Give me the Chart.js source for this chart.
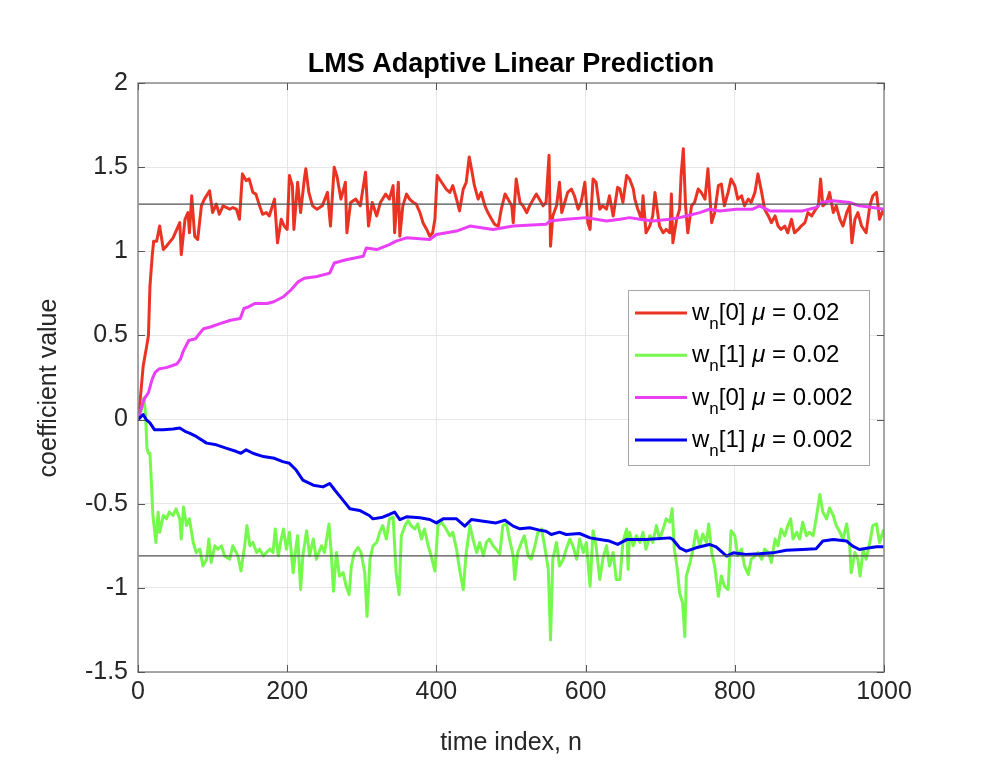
<!DOCTYPE html>
<html>
<head>
<meta charset="utf-8">
<title>LMS Adaptive Linear Prediction</title>
<script src="https://cdn.jsdelivr.net/npm/chart.js@4.4.1/dist/chart.umd.min.js"></script>
<style>
  html, body { margin: 0; padding: 0; background: #fff; }
  canvas { display: block; }
</style>
</head>
<body>
<canvas id="lms" width="1000" height="778"></canvas>
<script>
// w_n[0], mu = 0.02
const nRedFast = [0,3,7,11,14,16,19,21,25,29,
  34,38,47,56,58,63,67,69,72,76,
  80,85,89,96,100,105,109,114,123,127,
  132,136,140,145,149,154,158,163,167,172,
  176,183,187,192,196,200,203,207,209,214,
  218,223,225,229,234,240,247,254,258,263,
  267,272,278,280,285,292,298,305,309,314,
  320,325,332,337,342,344,349,351,355,360,
  364,369,373,378,382,387,391,395,398,401,
  407,413,418,422,427,431,436,440,444,447,
  451,456,460,465,469,474,478,483,487,492,
  496,501,503,507,512,516,521,525,530,534,
  538,543,547,551,553,556,561,565,568,572,
  576,581,585,590,594,599,603,606,610,614,
  619,623,628,632,637,643,646,650,655,659,
  664,666,670,675,677,681,686,690,693,699,
  704,708,713,715,717,722,726,728,731,734,
  737,742,746,751,755,760,764,769,773,778,
  782,786,791,795,800,804,809,813,818,822,
  827,831,836,840,845,849,854,858,862,867,
  871,876,880,885,889,894,898,903,907,912,
  915,918,923,927,932,936,941,945,950,954,
  957,961,965,970,976,981,985,990,994,999,
  1000];
const wRedFast = [0,0.12,0.32,0.42,0.5,0.79,0.97,1.06,1.06,1.15,
  1.01,1.03,1.08,1.17,0.98,1.19,1.23,1.11,1.33,1.09,
  1.07,1.27,1.31,1.36,1.23,1.28,1.22,1.27,1.25,1.26,
  1.25,1.19,1.46,1.42,1.43,1.35,1.34,1.27,1.22,1.23,
  1.21,1.31,1.05,1.19,1.15,1.13,1.45,1.39,1.13,1.41,
  1.23,1.43,1.49,1.35,1.27,1.25,1.27,1.35,1.15,1.50,
  1.44,1.31,1.41,1.11,1.29,1.31,1.27,1.47,1.15,1.29,
  1.21,1.29,1.34,1.31,1.39,1.11,1.41,1.09,1.27,1.34,
  1.31,1.29,1.28,1.23,1.17,1.13,1.09,1.11,1.19,1.45,
  1.41,1.37,1.35,1.39,1.31,1.24,1.37,1.41,1.56,1.49,
  1.39,1.31,1.35,1.27,1.23,1.19,1.16,1.15,1.25,1.34,
  1.31,1.27,1.17,1.43,1.29,1.27,1.23,1.27,1.31,1.34,
  1.31,1.27,1.29,1.57,1.03,1.21,1.27,1.41,1.23,1.29,
  1.35,1.37,1.33,1.25,1.29,1.41,1.17,1.13,1.43,1.41,
  1.25,1.27,1.25,1.33,1.21,1.38,1.37,1.29,1.45,1.43,
  1.37,1.31,1.25,1.19,1.33,1.11,1.15,1.21,1.35,1.15,
  1.11,1.13,1.11,1.34,1.05,1.19,1.25,1.45,1.61,1.27,
  1.11,1.27,1.29,1.37,1.35,1.31,1.49,1.17,1.23,1.39,
  1.40,1.27,1.35,1.43,1.39,1.31,1.33,1.27,1.31,1.29,
  1.35,1.46,1.35,1.25,1.21,1.17,1.21,1.15,1.13,1.15,
  1.11,1.19,1.11,1.13,1.15,1.17,1.23,1.21,1.24,1.27,
  1.43,1.27,1.29,1.35,1.23,1.27,1.19,1.15,1.23,1.27,
  1.05,1.19,1.23,1.15,1.11,1.27,1.33,1.35,1.19,1.25,
  1.22];

// w_n[1], mu = 0.02
const nGreenFast = [0,4,8,10,12,14,16,18,20,24,
  27,29,34,38,42,47,51,56,58,61,
  65,69,74,78,83,87,92,95,98,103,
  107,112,116,123,127,134,138,143,146,150,
  154,159,163,168,172,177,181,184,188,192,
  195,199,203,208,212,214,218,221,226,230,
  235,239,246,250,256,259,262,266,270,275,
  279,283,286,290,295,299,304,307,311,315,
  320,324,328,333,337,342,346,350,353,358,
  362,366,371,375,380,384,389,393,398,402,
  407,413,418,422,427,431,436,440,445,449,
  454,458,463,467,471,476,480,485,489,494,
  498,503,505,509,514,518,523,527,532,536,
  541,545,550,553,556,561,565,570,574,579,
  583,588,592,597,601,606,610,614,619,623,
  628,632,637,641,646,650,655,657,659,664,
  668,673,677,681,686,690,695,699,704,708,
  713,716,719,723,726,730,733,735,740,744,
  748,753,757,762,765,769,773,778,782,786,
  791,795,800,804,809,813,818,822,827,831,
  836,840,845,849,854,858,862,867,871,875,
  878,883,887,891,896,900,905,909,914,918,
  923,927,932,936,941,945,950,954,956,961,
  965,968,972,976,981,985,990,994,999,1000];
const wGreenFast = [0,0.05,0.13,0.04,-0.17,-0.2,-0.2,-0.38,-0.57,-0.73,
  -0.55,-0.67,-0.57,-0.59,-0.55,-0.57,-0.53,-0.59,-0.71,-0.52,
  -0.63,-0.59,-0.73,-0.79,-0.77,-0.87,-0.83,-0.71,-0.85,-0.75,
  -0.77,-0.75,-0.81,-0.83,-0.75,-0.81,-0.90,-0.75,-0.63,-0.75,
  -0.73,-0.79,-0.77,-0.81,-0.79,-0.77,-0.79,-0.65,-0.81,-0.71,
  -0.65,-0.77,-0.67,-0.91,-0.75,-0.69,-1.01,-0.81,-0.66,-0.81,
  -0.71,-0.83,-0.75,-0.79,-0.62,-0.79,-1.02,-0.79,-0.93,-0.91,
  -0.99,-1.04,-0.87,-0.79,-0.76,-0.79,-0.91,-1.17,-0.83,-0.75,
  -0.73,-0.67,-0.63,-0.71,-0.59,-0.58,-0.91,-1.04,-0.69,-0.63,
  -0.60,-0.63,-0.65,-0.62,-0.71,-0.65,-0.75,-0.81,-0.90,-0.63,
  -0.61,-0.65,-0.69,-0.67,-0.77,-0.89,-1.01,-0.79,-0.63,-0.71,
  -0.79,-0.73,-0.81,-0.73,-0.71,-0.75,-0.77,-0.80,-0.63,-0.62,
  -0.71,-0.81,-0.95,-0.79,-0.73,-0.69,-0.81,-0.83,-0.75,-0.67,
  -0.65,-0.75,-0.89,-1.31,-0.83,-0.73,-0.87,-0.83,-0.77,-0.71,
  -0.75,-0.83,-0.71,-0.79,-0.73,-0.99,-0.66,-0.75,-0.95,-0.83,
  -0.75,-0.87,-0.79,-0.95,-0.95,-0.73,-0.65,-0.89,-0.67,-0.75,
  -0.69,-0.73,-0.67,-0.77,-0.69,-0.73,-0.63,-0.71,-0.65,-0.59,
  -0.61,-0.53,-0.77,-0.89,-1.03,-1.09,-1.29,-0.93,-0.85,-0.77,
  -0.66,-0.75,-0.68,-0.73,-0.62,-0.79,-0.87,-1.05,-0.93,-0.99,
  -1.01,-0.66,-0.69,-0.81,-0.77,-0.87,-0.92,-0.83,-0.81,-0.79,
  -0.83,-0.77,-0.79,-0.85,-0.71,-0.75,-0.65,-0.69,-0.63,-0.59,
  -0.71,-0.67,-0.71,-0.61,-0.69,-0.67,-0.69,-0.59,-0.445,-0.55,
  -0.59,-0.525,-0.57,-0.63,-0.67,-0.71,-0.62,-0.75,-0.91,-0.79,
  -0.83,-0.93,-0.77,-0.83,-0.73,-0.63,-0.62,-0.73,-0.66,-0.69];

// w_n[0], mu = 0.002
const nMagentaSlow = [0,8,14,19,23,28,39,52,57,61,
  68,77,84,88,97,110,124,137,142,148,
  157,173,182,195,205,215,223,240,257,263,
  279,302,306,320,337,346,360,391,400,427,
  445,476,503,547,552,574,601,628,646,659,
  673,690,713,726,735,753,766,780,802,824,
  833,847,869,891,909,916,932,954,967,985,
  1000];
const wMagentaSlow = [0,0.12,0.16,0.24,0.28,0.30,0.31,0.33,0.36,0.41,
  0.47,0.48,0.52,0.54,0.55,0.57,0.59,0.60,0.66,0.67,
  0.69,0.69,0.70,0.73,0.77,0.82,0.84,0.85,0.87,0.93,
  0.95,0.97,1.02,1.01,1.04,1.06,1.08,1.07,1.10,1.12,
  1.15,1.13,1.15,1.16,1.18,1.19,1.20,1.18,1.19,1.20,
  1.19,1.18,1.19,1.20,1.21,1.23,1.25,1.24,1.25,1.25,
  1.27,1.24,1.24,1.24,1.26,1.29,1.30,1.29,1.27,1.26,
  1.25];

// w_n[1], mu = 0.002
const nBlueSlow = [0,7,11,16,22,34,47,56,63,69,
  78,92,105,118,132,138,145,154,168,183,
  194,203,212,221,235,248,257,264,275,284,
  297,310,315,328,337,344,351,360,378,391,
  400,409,427,438,447,463,480,492,503,512,
  525,538,547,554,565,574,592,606,619,632,
  643,655,673,681,713,717,726,735,748,766,
  775,789,798,815,833,851,869,891,909,918,
  932,950,958,967,981,990,1000];
const wBlueSlow = [0,0.03,0.0,-0.02,-0.06,-0.06,-0.056,-0.05,-0.07,-0.08,
  -0.10,-0.14,-0.15,-0.17,-0.19,-0.20,-0.18,-0.20,-0.22,-0.23,
  -0.25,-0.26,-0.30,-0.36,-0.39,-0.40,-0.38,-0.42,-0.48,-0.53,
  -0.54,-0.57,-0.59,-0.58,-0.564,-0.55,-0.594,-0.578,-0.584,-0.594,
  -0.614,-0.59,-0.59,-0.633,-0.594,-0.604,-0.614,-0.598,-0.633,-0.649,
  -0.643,-0.657,-0.663,-0.683,-0.669,-0.683,-0.677,-0.703,-0.713,-0.722,
  -0.742,-0.713,-0.713,-0.713,-0.703,-0.713,-0.762,-0.782,-0.762,-0.742,
  -0.756,-0.811,-0.792,-0.802,-0.798,-0.792,-0.776,-0.772,-0.768,-0.722,
  -0.713,-0.722,-0.752,-0.772,-0.762,-0.756,-0.756];

// optimal coefficient levels (thin horizontal lines)
const refLevels = [1.28, -0.81];

const xTicks = [0, 200, 400, 600, 800, 1000];
const yTicks = [-1.5, -1, -0.5, 0, 0.5, 1, 1.5, 2];

const legendIndex = ['[0]', '[1]', '[0]', '[1]'];
const legendMu = ['0.02', '0.02', '0.002', '0.002'];
const seriesColors = ['#eb3323', '#75f94d', '#ea3ff7', '#0000f0'];

const FONT = '"Liberation Sans", Arial, Helvetica, sans-serif';
Chart.defaults.font.family = FONT;

function toPoints(xs, ys) {
    return xs.map(function (n, i) { return { x: n, y: ys[i] }; });
}

var datasets = [
    { label: 'w_n[0] μ = 0.02', data: toPoints(nRedFast, wRedFast), borderColor: seriesColors[0], order: 4 },
    { label: 'w_n[1] μ = 0.02', data: toPoints(nGreenFast, wGreenFast), borderColor: seriesColors[1], order: 3 },
    { label: 'w_n[0] μ = 0.002', data: toPoints(nMagentaSlow, wMagentaSlow), borderColor: seriesColors[2], order: 2 },
    { label: 'w_n[1] μ = 0.002', data: toPoints(nBlueSlow, wBlueSlow), borderColor: seriesColors[3], order: 1 }
];
datasets.forEach(function (d) { d.borderWidth = 3; });
refLevels.forEach(function (v) {
    datasets.push({
        label: 'ref',
        data: [{ x: xTicks[0], y: v }, { x: xTicks[xTicks.length - 1], y: v }],
        borderColor: '#505050',
        borderWidth: 1.2,
        order: 0
    });
});

// box, inner tick marks, titles and the MATLAB style legend
var matlabLook = {
    id: 'matlabLook',
    afterDraw: function (chart) {
        var ctx = chart.ctx;
        var a = chart.chartArea;
        var xs = chart.scales.x, ys = chart.scales.y;
        ctx.save();

        ctx.strokeStyle = '#8c8c8c';
        ctx.lineWidth = 1.5;
        ctx.strokeRect(a.left, a.top, a.right - a.left, a.bottom - a.top);

        ctx.strokeStyle = '#555';
        ctx.lineWidth = 1;
        ctx.beginPath();
        xTicks.forEach(function (v) {
            var px = Math.round(xs.getPixelForValue(v)) + 0.5;
            ctx.moveTo(px, a.bottom); ctx.lineTo(px, a.bottom - 7);
            ctx.moveTo(px, a.top); ctx.lineTo(px, a.top + 7);
        });
        yTicks.forEach(function (v) {
            var py = Math.round(ys.getPixelForValue(v)) + 0.5;
            ctx.moveTo(a.left, py); ctx.lineTo(a.left + 7, py);
            ctx.moveTo(a.right, py); ctx.lineTo(a.right - 7, py);
        });
        ctx.stroke();

        ctx.fillStyle = '#000';
        ctx.textAlign = 'center';
        ctx.textBaseline = 'alphabetic';
        ctx.font = 'bold 27px ' + FONT;
        ctx.fillText('LMS Adaptive Linear Prediction', (a.left + a.right) / 2, 72);

        ctx.fillStyle = '#262626';
        ctx.font = '25px ' + FONT;
        ctx.fillText('time index, n', (a.left + a.right) / 2, 750);
        ctx.save();
        ctx.translate(56, 388);
        ctx.rotate(-Math.PI / 2);
        ctx.fillText('coefficient value', 0, 0);
        ctx.restore();

        // legend
        var bx = 628, by = 290, bw = 241, bh = 175;
        ctx.fillStyle = '#fff';
        ctx.fillRect(bx, by, bw, bh);
        ctx.strokeStyle = '#a6a6a6';
        ctx.lineWidth = 1;
        ctx.strokeRect(bx + 0.5, by + 0.5, bw, bh);
        ctx.textAlign = 'left';
        for (var i = 0; i < legendMu.length; i++) {
            var ly = 313 + i * 42.3;
            ctx.strokeStyle = seriesColors[i];
            ctx.lineWidth = 3;
            ctx.beginPath();
            ctx.moveTo(635, ly); ctx.lineTo(687, ly);
            ctx.stroke();

            var tx = 692, base = ly + 7;
            ctx.fillStyle = '#000';
            ctx.font = '24px ' + FONT;
            ctx.fillText('w', tx, base);
            tx += ctx.measureText('w').width;
            ctx.font = '17px ' + FONT;
            ctx.fillText('n', tx, base + 9);
            tx += ctx.measureText('n').width;
            ctx.font = '24px ' + FONT;
            ctx.fillText(legendIndex[i] + ' ', tx, base);
            tx += ctx.measureText(legendIndex[i] + ' ').width;
            ctx.font = 'italic 24px ' + FONT;
            ctx.fillText('μ', tx, base);
            tx += ctx.measureText('μ').width;
            ctx.font = '24px ' + FONT;
            ctx.fillText(' = ' + legendMu[i], tx, base);
        }
        ctx.restore();
    }
};

var lmsChart = new Chart(document.getElementById('lms'), {
    type: 'line',
    data: { datasets: datasets },
    options: {
        responsive: false,
        devicePixelRatio: 1,
        animation: false,
        layout: { padding: { left: 0, right: 116, top: 83, bottom: 0 } },
        elements: {
            point: { radius: 0 },
            line: { tension: 0, borderJoinStyle: 'round', borderCapStyle: 'round' }
        },
        plugins: {
            legend: { display: false },
            title: { display: false },
            tooltip: { enabled: false }
        },
        scales: {
            x: {
                type: 'linear',
                min: 0,
                max: 1000,
                afterFit: function (s) { s.height = 106; },
                afterBuildTicks: function (s) { s.ticks = xTicks.map(function (v) { return { value: v }; }); },
                ticks: {
                    color: '#262626',
                    font: { size: 25 },
                    padding: 5,
                    maxRotation: 0,
                    autoSkip: false,
                    callback: function (v) { return String(v); }
                },
                grid: { color: '#e6e6e6', lineWidth: 1, drawTicks: false },
                border: { display: false }
            },
            y: {
                type: 'linear',
                min: -1.5,
                max: 2,
                afterFit: function (s) { s.width = 138; },
                afterBuildTicks: function (s) { s.ticks = yTicks.map(function (v) { return { value: v }; }); },
                ticks: {
                    color: '#262626',
                    font: { size: 25 },
                    padding: 10,
                    callback: function (v) { return String(Math.round(v * 10) / 10); }
                },
                grid: { color: '#e6e6e6', lineWidth: 1, drawTicks: false },
                border: { display: false }
            }
        }
    },
    plugins: [matlabLook]
});
</script>
</body>
</html>
